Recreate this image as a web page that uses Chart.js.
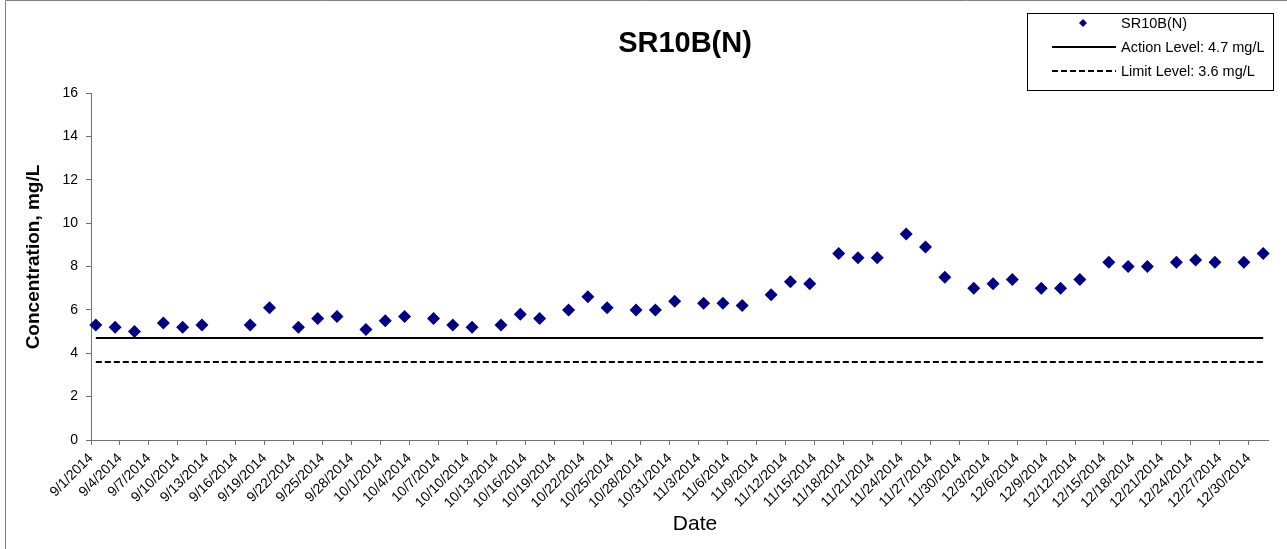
<!DOCTYPE html>
<html><head><meta charset="utf-8">
<script src="https://cdn.jsdelivr.net/npm/chart.js@4.4.0/dist/chart.umd.min.js"></script>
<style>html,body{margin:0;padding:0;background:#fff;}canvas{display:block;}</style>
</head><body>
<canvas id="c" width="1287" height="549"></canvas>
<script>
const chartTitle = 'SR10B(N)';
const xAxisTitle = 'Date';
const yAxisTitle = 'Concentration, mg/L';
const seriesLabel = 'SR10B(N)';
const actionLabel = 'Action Level: 4.7 mg/L';
const limitLabel = 'Limit Level: 3.6 mg/L';
const actionLevel = 4.7;
const limitLevel = 3.6;
const axisStartDate = '9/1/2014';
const axisEndDate = '12/31/2014';

const sampleDates = [
  '9/1/2014','9/3/2014','9/5/2014','9/8/2014','9/10/2014','9/12/2014','9/17/2014','9/19/2014',
  '9/22/2014','9/24/2014','9/26/2014','9/29/2014','10/1/2014','10/3/2014','10/6/2014','10/8/2014',
  '10/10/2014','10/13/2014','10/15/2014','10/17/2014','10/20/2014','10/22/2014','10/24/2014','10/27/2014',
  '10/29/2014','10/31/2014','11/3/2014','11/5/2014','11/7/2014','11/10/2014','11/12/2014','11/14/2014',
  '11/17/2014','11/19/2014','11/21/2014','11/24/2014','11/26/2014','11/28/2014','12/1/2014','12/3/2014',
  '12/5/2014','12/8/2014','12/10/2014','12/12/2014','12/15/2014','12/17/2014','12/19/2014','12/22/2014',
  '12/24/2014','12/26/2014','12/29/2014','12/31/2014'
];
const sampleValues = [
  5.3,5.2,5.0,5.4,5.2,5.3,5.3,6.1,
  5.2,5.6,5.7,5.1,5.5,5.7,5.6,5.3,
  5.2,5.3,5.8,5.6,6.0,6.6,6.1,6.0,
  6.0,6.4,6.3,6.3,6.2,6.7,7.3,7.2,
  8.6,8.4,8.4,9.5,8.9,7.5,7.0,7.2,
  7.4,7.0,7.0,7.4,8.2,8.0,8.0,8.2,
  8.3,8.2,8.2,8.6
];
const xTickLabels = [
  '9/1/2014','9/4/2014','9/7/2014','9/10/2014','9/13/2014','9/16/2014','9/19/2014','9/22/2014','9/25/2014','9/28/2014',
  '10/1/2014','10/4/2014','10/7/2014','10/10/2014','10/13/2014','10/16/2014','10/19/2014','10/22/2014','10/25/2014','10/28/2014','10/31/2014',
  '11/3/2014','11/6/2014','11/9/2014','11/12/2014','11/15/2014','11/18/2014','11/21/2014','11/24/2014','11/27/2014','11/30/2014',
  '12/3/2014','12/6/2014','12/9/2014','12/12/2014','12/15/2014','12/18/2014','12/21/2014','12/24/2014','12/27/2014','12/30/2014'
];
const yMin = 0, yMax = 16, yStep = 2;

const FONT = '"Liberation Sans", Arial, sans-serif';
function toUTC(s){ const [m,d,y] = s.split('/').map(Number); return Date.UTC(y, m-1, d); }
const t0 = toUTC(axisStartDate);
function dayIndex(s){ return Math.round((toUTC(s) - t0) / 86400000); }
// Excel-style date category axis: each day occupies one unit, points sit mid-day
const pointData = sampleDates.map((d,i) => ({x: dayIndex(d) + 0.5, y: sampleValues[i]}));
const firstX = dayIndex(sampleDates[0]) + 0.5;
const lastX = dayIndex(sampleDates[sampleDates.length-1]) + 0.5;

const overlay = {
  id: 'overlay',
  beforeDraw(chart){
    const ctx = chart.ctx;
    ctx.save();
    ctx.fillStyle = '#fff';
    ctx.fillRect(0,0,chart.width,chart.height);
    ctx.strokeStyle = '#808080';
    ctx.lineWidth = 1;
    ctx.beginPath();
    ctx.moveTo(5.5, chart.height); ctx.lineTo(5.5, 0.5); ctx.lineTo(chart.width, 0.5);
    ctx.stroke();
    ctx.restore();
  },
  afterDraw(chart){
    const ctx = chart.ctx;
    ctx.save();
    ctx.fillStyle = '#000';
    ctx.font = 'bold 29px ' + FONT;
    ctx.textAlign = 'center'; ctx.textBaseline = 'alphabetic';
    ctx.fillText(chartTitle, 685, 52);
    ctx.font = '21px ' + FONT;
    ctx.fillText(xAxisTitle, 695, 530);
    ctx.save();
    ctx.translate(38.5, 257);
    ctx.rotate(-Math.PI/2);
    ctx.font = 'bold 19px ' + FONT;
    ctx.fillText(yAxisTitle, 0, 0);
    ctx.restore();
    const bx = 1027.5, by = 13.5, bw = 246, bh = 77;
    ctx.strokeStyle = '#000'; ctx.lineWidth = 1;
    ctx.strokeRect(bx, by, bw, bh);
    const ds = chart.data.datasets;
    const rows = [23, 47, 71];
    ctx.font = '14.5px ' + FONT;
    ctx.textAlign = 'left'; ctx.textBaseline = 'middle';
    ds.forEach((d, i) => {
      const y = rows[i];
      if (i === 0) {
        ctx.fillStyle = d.backgroundColor;
        ctx.beginPath();
        const r = 4, cx = 1083;
        ctx.moveTo(cx - r, y); ctx.lineTo(cx, y - r); ctx.lineTo(cx + r, y); ctx.lineTo(cx, y + r);
        ctx.closePath(); ctx.fill();
      } else {
        ctx.strokeStyle = d.borderColor; ctx.lineWidth = d.borderWidth;
        ctx.setLineDash(d.borderDash || []);
        ctx.beginPath(); ctx.moveTo(1052, y); ctx.lineTo(1116, y); ctx.stroke();
        ctx.setLineDash([]);
      }
      ctx.fillStyle = '#000';
      ctx.fillText(d.label, 1121, y + 0.5);
    });
    ctx.restore();
  }
};

new Chart(document.getElementById('c'), {
  type: 'scatter',
  data: {
    datasets: [
      { label: seriesLabel, data: pointData, showLine: false,
        pointStyle: 'rectRot', pointRadius: 6.5, pointBorderWidth: 0,
        backgroundColor: '#000080', borderColor: '#000080', order: 0, clip: false },
      { label: actionLabel, data: [{x:firstX, y:actionLevel},{x:lastX, y:actionLevel}], showLine: true,
        pointRadius: 0, borderColor: '#000', borderWidth: 2, backgroundColor: '#000', order: 1 },
      { label: limitLabel, data: [{x:firstX, y:limitLevel},{x:lastX, y:limitLevel}], showLine: true,
        pointRadius: 0, borderColor: '#000', borderWidth: 2, borderDash: [6,3], backgroundColor: '#000', order: 2 }
    ]
  },
  options: {
    responsive: false, animation: false, events: [],
    layout: { padding: { left: 0, top: 93, right: 19, bottom: 0 } },
    plugins: { legend: { display: false }, tooltip: { enabled: false }, title: { display: false } },
    scales: {
      x: {
        type: 'linear', min: 0, max: dayIndex(axisEndDate) + 1,
        afterBuildTicks(scale){ scale.ticks = xTickLabels.map(s => ({ value: dayIndex(s) })); },
        afterFit(scale){ scale.height = 109; },
        grid: { display: true, drawOnChartArea: false, drawTicks: true, tickLength: 5, tickColor: '#707070' },
        border: { display: true, color: '#707070', width: 1 },
        ticks: { autoSkip: false, minRotation: 45, maxRotation: 45, padding: 5, color: '#000',
          font: { family: FONT, size: 14 },
          callback: (v, i) => xTickLabels[i] }
      },
      y: {
        min: yMin, max: yMax,
        afterFit(scale){ scale.width = 91; },
        grid: { display: true, drawOnChartArea: false, drawTicks: true, tickLength: 5, tickColor: '#707070' },
        border: { display: true, color: '#707070', width: 1 },
        ticks: { stepSize: yStep, padding: 8, color: '#000', font: { family: FONT, size: 14 } }
      }
    }
  },
  plugins: [overlay]
});
</script>
</body></html>
